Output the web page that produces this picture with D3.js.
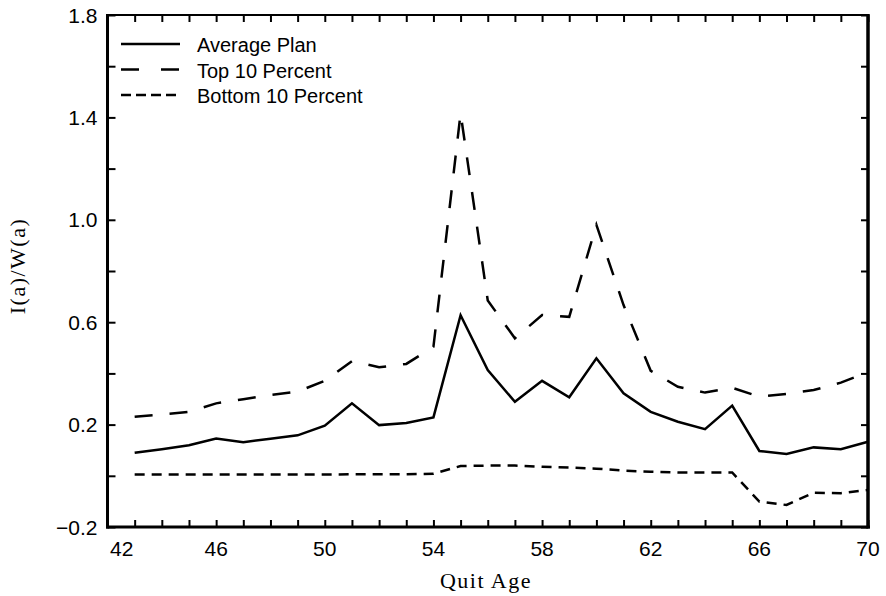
<!DOCTYPE html>
<html>
<head>
<meta charset="utf-8">
<script src="https://cdn.jsdelivr.net/npm/d3@7"></script>
<style>
  html, body { margin: 0; padding: 0; background: #fff; }
  svg { display: block; }
</style>
</head>
<body>
<svg id="chart" width="886" height="596"></svg>
<script>
// ---- data ----
const ages = [43,44,45,46,47,48,49,50,51,52,53,54,55,56,57,58,59,60,61,62,63,64,65,66,67,68,69,70];
const averagePlan = [0.090,0.104,0.119,0.146,0.131,0.145,0.158,0.196,0.283,0.198,0.206,0.228,0.627,0.413,0.289,0.371,0.307,0.459,0.322,0.250,0.211,0.182,0.274,0.097,0.085,0.111,0.104,0.133];
const top10 = [0.231,0.240,0.250,0.283,0.299,0.316,0.329,0.371,0.448,0.424,0.437,0.504,1.416,0.685,0.537,0.628,0.621,0.980,0.667,0.410,0.348,0.325,0.344,0.309,0.320,0.335,0.364,0.405];
const bottom10 = [0.005,0.005,0.005,0.005,0.005,0.005,0.005,0.005,0.006,0.006,0.006,0.008,0.038,0.040,0.040,0.035,0.032,0.028,0.020,0.016,0.013,0.013,0.013,-0.101,-0.114,-0.066,-0.068,-0.055];
const xTickLabels = [42,46,50,54,58,62,66,70];
const yTickLabels = [1.8,1.4,1.0,0.6,0.2,-0.2];
const yMinorTicks = [1.6,1.2,0.8,0.4,0.0];
const seriesNames = ["Average Plan","Top 10 Percent","Bottom 10 Percent"];

// ---- layout ----
const svg = d3.select("#chart");
const L = 107.5, R = 868, T = 15, B = 527;
const x = d3.scaleLinear().domain([42,70]).range([L,R]);
const y = d3.scaleLinear().domain([-0.2,1.8]).range([B,T]);

const sans = "'Liberation Sans', Arial, Helvetica, sans-serif";
const serif = "'Liberation Serif', 'Times New Roman', Times, serif";

// ---- axes (ticks inward) ----
const allYears = d3.range(42,71);
const yAll = yTickLabels.concat(yMinorTicks);

const bottomAxis = d3.axisBottom(x).tickValues(allYears).tickSize(-7).tickFormat("");
const topAxis = d3.axisTop(x).tickValues(allYears).tickSize(-7).tickFormat("");
const leftAxis = d3.axisLeft(y).tickValues(yAll).tickSize(-8).tickFormat("");
const rightAxis = d3.axisRight(y).tickValues(yAll).tickSize(-7).tickFormat("");

function styleAxis(g) {
  g.select(".domain").remove();
  g.selectAll(".tick line").attr("stroke","#000").attr("stroke-width",2);
}
svg.append("g").attr("transform",`translate(0,${B})`).call(bottomAxis).call(styleAxis);
svg.append("g").attr("transform",`translate(0,${T})`).call(topAxis).call(styleAxis);
svg.append("g").attr("transform",`translate(${L},0)`).call(leftAxis).call(styleAxis);
svg.append("g").attr("transform",`translate(${R},0)`).call(rightAxis).call(styleAxis);

// frame
svg.append("line").attr("x1",L).attr("x2",R).attr("y1",T).attr("y2",T).attr("stroke","#000").attr("stroke-width",2);
svg.append("line").attr("x1",L-1.5).attr("x2",R+2).attr("y1",B).attr("y2",B).attr("stroke","#000").attr("stroke-width",3);
svg.append("line").attr("x1",L).attr("x2",L).attr("y1",T-1).attr("y2",B+1.5).attr("stroke","#000").attr("stroke-width",3);
svg.append("line").attr("x1",R).attr("x2",R).attr("y1",T-1).attr("y2",B+1.5).attr("stroke","#000").attr("stroke-width",3.5);

// tick labels
svg.append("g").selectAll("text").data(yTickLabels).join("text")
  .attr("x", L - 10).attr("y", d => y(d)).attr("dy","0.36em")
  .attr("text-anchor","end").attr("font-family",sans).attr("font-size",21).attr("fill","#000")
  .text(d => d < 0 ? "\u2212" + Math.abs(d).toFixed(1) : d.toFixed(1));

svg.append("g").selectAll("text").data(xTickLabels).join("text")
  .attr("x", (d,i) => i === 0 ? x(d) + 2.5 : x(d))
  .attr("y", 548).attr("dy","0.36em")
  .attr("text-anchor",(d,i) => i === 0 ? "start" : "middle")
  .attr("font-family",sans).attr("font-size",21).attr("fill","#000")
  .text(d => d);

// axis titles
svg.append("text").attr("x",486).attr("y",588).attr("text-anchor","middle")
  .attr("font-family",serif).attr("font-size",22).attr("letter-spacing","1.5px").attr("fill","#000")
  .text("Quit Age");
svg.append("text").attr("transform","translate(25,266) rotate(-90)").attr("text-anchor","middle")
  .attr("font-family",serif).attr("font-size",22).attr("letter-spacing","1.5px").attr("fill","#000")
  .text("I(a)/W(a)");

// ---- lines ----
const series = [
  {name: seriesNames[0], values: averagePlan, dash: null},
  {name: seriesNames[1], values: top10, dash: "18,17"},
  {name: seriesNames[2], values: bottom10, dash: "10,7"}
];
const line = d3.line().x((d,i) => x(ages[i])).y(d => y(d));
svg.append("g").selectAll("path").data(series).join("path")
  .attr("d", d => line(d.values))
  .attr("fill","none").attr("stroke","#000").attr("stroke-width",2.5)
  .attr("stroke-linejoin","miter")
  .attr("stroke-dasharray", d => d.dash);

// ---- legend ----
const legRows = [45, 70.5, 96];
const lg = svg.append("g");
series.forEach((s,i) => {
  lg.append("line").attr("x1",121).attr("x2",180).attr("y1",legRows[i] - 1).attr("y2",legRows[i] - 1)
    .attr("stroke","#000").attr("stroke-width",2.5)
    .attr("stroke-dasharray", i === 1 ? "18,22" : (i === 2 ? "10,5" : null));
  lg.append("text").attr("x",197).attr("y",legRows[i]).attr("dy","0.36em")
    .attr("font-family",sans).attr("font-size",20).attr("fill","#000").text(s.name);
});
</script>
</body>
</html>
